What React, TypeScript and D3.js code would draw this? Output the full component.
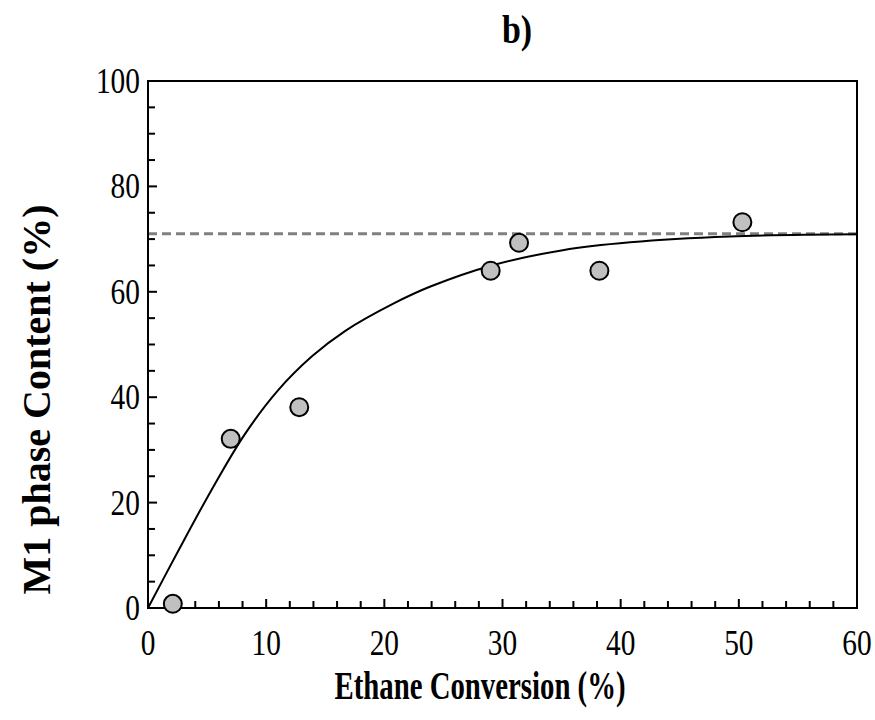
import React, { useEffect, useRef } from "react";
import * as d3 from "d3";

// measured points
const conversion = [2.1, 7.0, 12.8, 29.0, 31.4, 38.2, 50.3];
const m1Content = [0.8, 32.1, 38.1, 64.0, 69.3, 64.0, 73.2];

// fitted curve
const fitX = [0, 2.6, 5.4, 8.2, 11.0, 13.9, 16.7, 20.8, 23.9, 29.1, 35.1, 40.8, 49.2, 60];
const fitY = [0, 11.0, 22.5, 33.0, 41.3, 47.8, 52.6, 57.8, 61.0, 65.0, 67.9, 69.4, 70.5, 70.9];

const plateau = 71;
const xTicks = [0, 10, 20, 30, 40, 50, 60];
const yTicks = [0, 20, 40, 60, 80, 100];

const dim = { left: 148, right: 857, top: 81, bottom: 608 };
const font = "'Liberation Serif', 'Times New Roman', serif";

// text squeezed sideways like the original
function label(svg, x, y, txt, size, sx, anchor, bold) {
  svg.append("text")
    .attr("transform", `translate(${x},${y}) scale(${sx},1)`)
    .attr("text-anchor", anchor)
    .style("font-family", font)
    .style("font-size", size + "px")
    .style("font-weight", bold ? "bold" : "normal")
    .text(txt);
}

function draw(node: SVGSVGElement) {
  const svg = d3.select(node);
  svg.selectAll("*").remove();

  const x = d3.scaleLinear().domain([0, 60]).range([dim.left, dim.right]);
  const y = d3.scaleLinear().domain([0, 100]).range([dim.bottom, dim.top]);

  // minor + major ticks, pointing inward
  const g = svg.append("g");
  d3.range(0, 61, 2).forEach(v => {
    const major = v % 10 === 0;
    g.append("line")
      .attr("x1", x(v)).attr("x2", x(v))
      .attr("y1", y(0)).attr("y2", y(0) - (major ? 9 : 7))
      .attr("stroke", "#000").attr("stroke-width", 2);
  });
  d3.range(0, 101, 5).forEach(v => {
    const major = v % 20 === 0;
    g.append("line")
      .attr("x1", x(0)).attr("x2", x(0) + (major ? 9 : 7))
      .attr("y1", y(v)).attr("y2", y(v))
      .attr("stroke", "#000").attr("stroke-width", 2);
  });

  // plateau
  svg.append("line")
    .attr("x1", x(0)).attr("x2", x(60))
    .attr("y1", y(plateau)).attr("y2", y(plateau))
    .attr("stroke", "#808080").attr("stroke-width", 3)
    .attr("stroke-dasharray", "9,5");

  // fit curve
  const line = d3.line<number>()
    .x((d, i) => x(fitX[i]))
    .y(d => y(d))
    .curve(d3.curveCatmullRom.alpha(0.5));
  svg.append("path")
    .datum(fitY)
    .attr("d", line)
    .attr("fill", "none")
    .attr("stroke", "#000")
    .attr("stroke-width", 2);

  // frame
  svg.append("rect")
    .attr("x", dim.left).attr("y", dim.top)
    .attr("width", dim.right - dim.left).attr("height", dim.bottom - dim.top)
    .attr("fill", "none").attr("stroke", "#000").attr("stroke-width", 2);

  svg.selectAll("circle.pt")
    .data(conversion)
    .enter().append("circle")
    .attr("class", "pt")
    .attr("cx", d => x(d))
    .attr("cy", (d, i) => y(m1Content[i]))
    .attr("r", 9)
    .attr("fill", "#c0c0c0")
    .attr("stroke", "#000")
    .attr("stroke-width", 2);

  // tick labels
  xTicks.forEach(v => label(svg, x(v), 655, v, 35, 0.84, "middle", false));
  yTicks.forEach(v => label(svg, 140, y(v) + 12, v, 35, 0.84, "end", false));

  label(svg, 480, 699, "Ethane Conversion (%)", 40, 0.72, "middle", true);
  label(svg, 517, 43, "b)", 40, 0.85, "middle", true);

  svg.append("text")
    .attr("transform", `translate(50, ${(dim.top + dim.bottom) / 2 + 55}) rotate(-90)`)
    .attr("text-anchor", "middle")
    .style("font-family", font).style("font-size", "40px").style("font-weight", "bold")
    .text("M1 phase Content (%)");
}

export default function App() {
  const ref = useRef<SVGSVGElement>(null);
  useEffect(() => {
    if (ref.current) draw(ref.current);
  }, []);
  return (
    <svg ref={ref} width={875} height={720}
      style={{ position: "absolute", left: 0, top: 0, background: "#fff" }} />
  );
}
